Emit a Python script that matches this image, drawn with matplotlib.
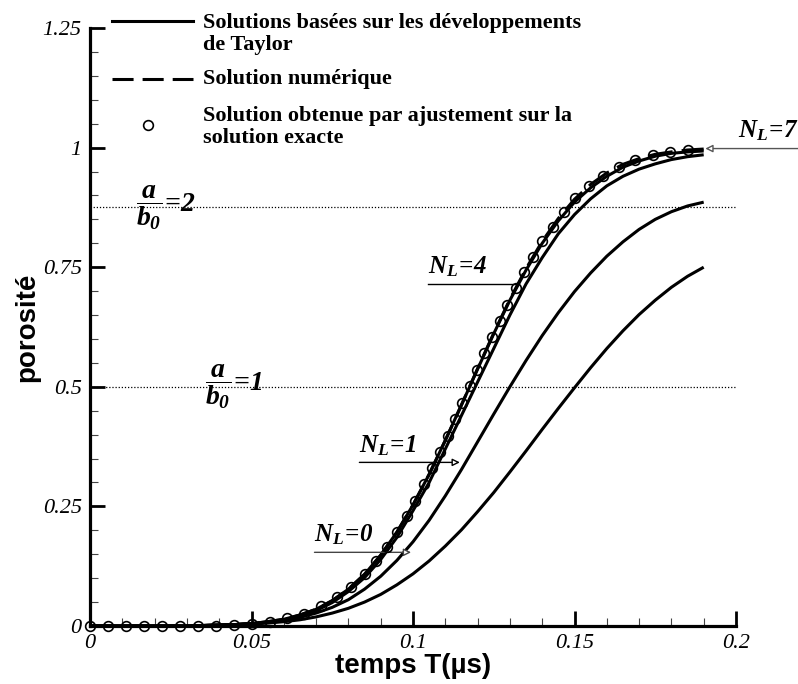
import matplotlib
matplotlib.use("Agg")
import matplotlib.pyplot as plt
from matplotlib.ticker import MultipleLocator, FuncFormatter
from matplotlib.lines import Line2D

# time axis of the curves (µs)
t_curve = [0.000, 0.005, 0.010, 0.015, 0.020, 0.025, 0.030, 0.035, 0.040, 0.045,
           0.050, 0.055, 0.060, 0.065, 0.070, 0.075, 0.080, 0.085, 0.090, 0.095,
           0.100, 0.105, 0.110, 0.115, 0.120, 0.125, 0.130, 0.135, 0.140, 0.145,
           0.150, 0.155, 0.160, 0.165, 0.170, 0.175, 0.180, 0.185, 0.190]

# numerical solution (dashed)
numerique = [0.000, 0.000, 0.000, 0.000, 0.000, 0.000, 0.000, 0.001, 0.002, 0.003,
             0.005, 0.009, 0.014, 0.023, 0.035, 0.053, 0.077, 0.108, 0.148, 0.196,
             0.253, 0.317, 0.388, 0.462, 0.538, 0.612, 0.683, 0.747, 0.804, 0.852,
             0.892, 0.923, 0.947, 0.965, 0.977, 0.986, 0.991, 0.995, 0.997]

# Taylor solutions, N_L = 7, 4, 1, 0
taylor_7 = [0.000, 0.000, 0.000, 0.000, 0.000, 0.000, 0.000, 0.001, 0.002, 0.003,
            0.005, 0.009, 0.014, 0.023, 0.035, 0.053, 0.077, 0.108, 0.148, 0.196,
            0.253, 0.317, 0.388, 0.462, 0.537, 0.611, 0.681, 0.744, 0.800, 0.847,
            0.886, 0.916, 0.940, 0.959, 0.972, 0.982, 0.988, 0.991, 0.993]
taylor_4 = [0.000, 0.000, 0.000, 0.000, 0.000, 0.000, 0.000, 0.001, 0.002, 0.003,
            0.005, 0.008, 0.013, 0.021, 0.032, 0.049, 0.072, 0.101, 0.139, 0.185,
            0.241, 0.300, 0.370, 0.440, 0.510, 0.580, 0.650, 0.715, 0.770, 0.820,
            0.860, 0.893, 0.920, 0.940, 0.955, 0.966, 0.975, 0.981, 0.985]
taylor_1 = [0.000, 0.000, 0.000, 0.000, 0.000, 0.000, 0.000, 0.001, 0.002, 0.003,
            0.005, 0.008, 0.012, 0.018, 0.027, 0.039, 0.055, 0.077, 0.104, 0.137,
            0.176, 0.221, 0.272, 0.327, 0.385, 0.443, 0.500, 0.555, 0.607, 0.655,
            0.699, 0.738, 0.773, 0.803, 0.829, 0.850, 0.866, 0.878, 0.886]
taylor_0 = [0.000, 0.000, 0.000, 0.000, 0.000, 0.000, 0.000, 0.001, 0.002, 0.003,
            0.004, 0.006, 0.009, 0.013, 0.019, 0.027, 0.037, 0.050, 0.066, 0.086,
            0.109, 0.136, 0.167, 0.201, 0.239, 0.279, 0.322, 0.366, 0.411, 0.455,
            0.498, 0.540, 0.580, 0.617, 0.651, 0.681, 0.708, 0.731, 0.750]

# fitted solution on the exact solution (circles)
t_fit = [0.0000, 0.0056, 0.0111, 0.0167, 0.0223, 0.0278, 0.0334, 0.0390, 0.0446,
         0.0501, 0.0556, 0.0611, 0.0664, 0.0716, 0.0764, 0.0808, 0.0850, 0.0886,
         0.0919, 0.0951, 0.0980, 0.1007, 0.1034, 0.1059, 0.1083, 0.1107, 0.1130,
         0.1153, 0.1176, 0.1198, 0.1221, 0.1245, 0.1268, 0.1292, 0.1318, 0.1344,
         0.1372, 0.1400, 0.1432, 0.1466, 0.1503, 0.1544, 0.1588, 0.1637, 0.1688,
         0.1742, 0.1797, 0.1850]
p_fit = [0.000, 0.000, 0.000, 0.000, 0.000, 0.000, 0.000, 0.001, 0.003,
         0.005, 0.009, 0.016, 0.026, 0.041, 0.060, 0.082, 0.108, 0.136,
         0.166, 0.197, 0.230, 0.262, 0.296, 0.330, 0.364, 0.398, 0.432,
         0.466, 0.501, 0.535, 0.570, 0.604, 0.638, 0.672, 0.706, 0.739,
         0.772, 0.804, 0.835, 0.865, 0.894, 0.919, 0.941, 0.960, 0.974,
         0.985, 0.991, 0.995]

ratio_levels = [0.875, 0.5]
ratio_labels = [r"$\dfrac{a}{b_0}\!=\!2$", r"$\dfrac{a}{b_0}\!=\!1$"]

plt.rcParams["mathtext.fontset"] = "custom"
plt.rcParams["mathtext.rm"] = "Liberation Serif:bold:italic"
plt.rcParams["mathtext.it"] = "Liberation Serif:bold:italic"
plt.rcParams["mathtext.bf"] = "Liberation Serif:bold:italic"

serif = "Liberation Serif"
sans = "Liberation Sans"

fig = plt.figure(figsize=(7.98, 6.84), dpi=100)
ax = fig.add_axes([90 / 798, 1 - 626 / 684, 646 / 798, 598 / 684])

ax.set_xlim(0, 0.2)
ax.set_ylim(0, 1.25)

for level in ratio_levels:
    ax.plot([0, 0.2], [level, level], color="black", lw=0.9, ls=(0, (1, 1.5)), zorder=1)

ax.plot(t_curve, numerique, color="black", lw=2.2, ls=(0, (8, 3)), zorder=3)
for serie in [taylor_7, taylor_4, taylor_1, taylor_0]:
    ax.plot(t_curve, serie, color="black", lw=2.2, solid_capstyle="butt", zorder=3)
ax.plot(t_fit, p_fit, ls="none", marker="o", ms=7, mfc="none", mec="black", mew=1.2,
        zorder=4, clip_on=False)

# a/b0 labels
ax.text(0.0143, 0.875, ratio_labels[0], fontsize=20, ha="left", va="center", zorder=5)
ax.text(0.0357, 0.5, ratio_labels[1], fontsize=20, ha="left", va="center", zorder=5)

# N_L labels with their leader lines
ax.text(0.0695, 0.165, r"$N_L\!=\!0$", fontsize=18, ha="left", va="bottom")
ax.annotate("", xy=(0.0994, 0.154), xytext=(0.0695, 0.154),
            arrowprops=dict(arrowstyle="-|>", ec="#444444", fc="white", lw=1, mutation_scale=11,
                            shrinkA=0, shrinkB=0))
ax.text(0.0834, 0.352, r"$N_L\!=\!1$", fontsize=18, ha="left", va="bottom")
ax.annotate("", xy=(0.1145, 0.342), xytext=(0.0834, 0.342),
            arrowprops=dict(arrowstyle="-|>", ec="black", fc="white", lw=1, mutation_scale=11,
                            shrinkA=0, shrinkB=0))
ax.text(0.1046, 0.725, r"$N_L\!=\!4$", fontsize=18, ha="left", va="bottom")
ax.plot([0.1046, 0.1323], [0.715, 0.715], color="black", lw=1, zorder=2)
ax.text(0.2192, 1.01, r"$N_L\!=\!7$", fontsize=18, ha="right", va="bottom", clip_on=False)
ax.annotate("", xy=(0.1905, 0.998), xytext=(0.2195, 0.998), annotation_clip=False,
            arrowprops=dict(arrowstyle="-|>", ec="#555555", fc="white", lw=1, mutation_scale=11,
                            shrinkA=0, shrinkB=0))

# axes styling
for side in ["top", "right"]:
    ax.spines[side].set_visible(False)
for side in ["left", "bottom"]:
    ax.spines[side].set_linewidth(2.3)

ax.xaxis.set_major_locator(MultipleLocator(0.05))
ax.xaxis.set_minor_locator(MultipleLocator(0.01))
ax.yaxis.set_major_locator(MultipleLocator(0.25))
ax.yaxis.set_minor_locator(MultipleLocator(0.05))
ax.xaxis.set_major_formatter(FuncFormatter(lambda v, p: "%g" % round(v, 4)))
ax.yaxis.set_major_formatter(FuncFormatter(lambda v, p: "%g" % round(v, 4)))
ax.tick_params(which="major", direction="in", length=11, width=2, pad=6)
ax.tick_params(which="minor", direction="in", length=6, width=0.8, color="#444444")
ax.tick_params(top=False, right=False, which="both")
for lab in ax.get_xticklabels() + ax.get_yticklabels():
    lab.set_family(serif)
    lab.set_style("italic")
    lab.set_fontsize(16)

ax.set_xlabel("temps T(µs)", family=sans, weight="bold", fontsize=20, labelpad=0)
ax.set_ylabel("porosité", family=sans, weight="bold", fontsize=20, labelpad=2)

# legend drawn by hand
fig.add_artist(Line2D([112 / 798, 193 / 798], [1 - 21 / 684, 1 - 21 / 684], color="black", lw=2.2))
fig.add_artist(Line2D([112 / 798, 193 / 798], [1 - 79 / 684, 1 - 79 / 684], color="black", lw=2.2,
                      ls=(0, (6.9, 2.95)), dash_capstyle="butt"))
fig.add_artist(Line2D([148 / 798], [1 - 125 / 684], color="black", marker="o", ms=7, mfc="none",
                      mew=1.2, ls="none"))
leg_font = dict(family=serif, weight="bold", fontsize=16, ha="left", va="center", linespacing=1.1)
fig.text(203 / 798, 1 - 34 / 684, "Solutions basées sur les développements\nde Taylor", **leg_font)
fig.text(203 / 798, 1 - 79 / 684, "Solution numérique", **leg_font)
fig.text(203 / 798, 1 - 127 / 684, "Solution obtenue par ajustement sur la\nsolution exacte", **leg_font)

fig.savefig("out.png", dpi=100)
